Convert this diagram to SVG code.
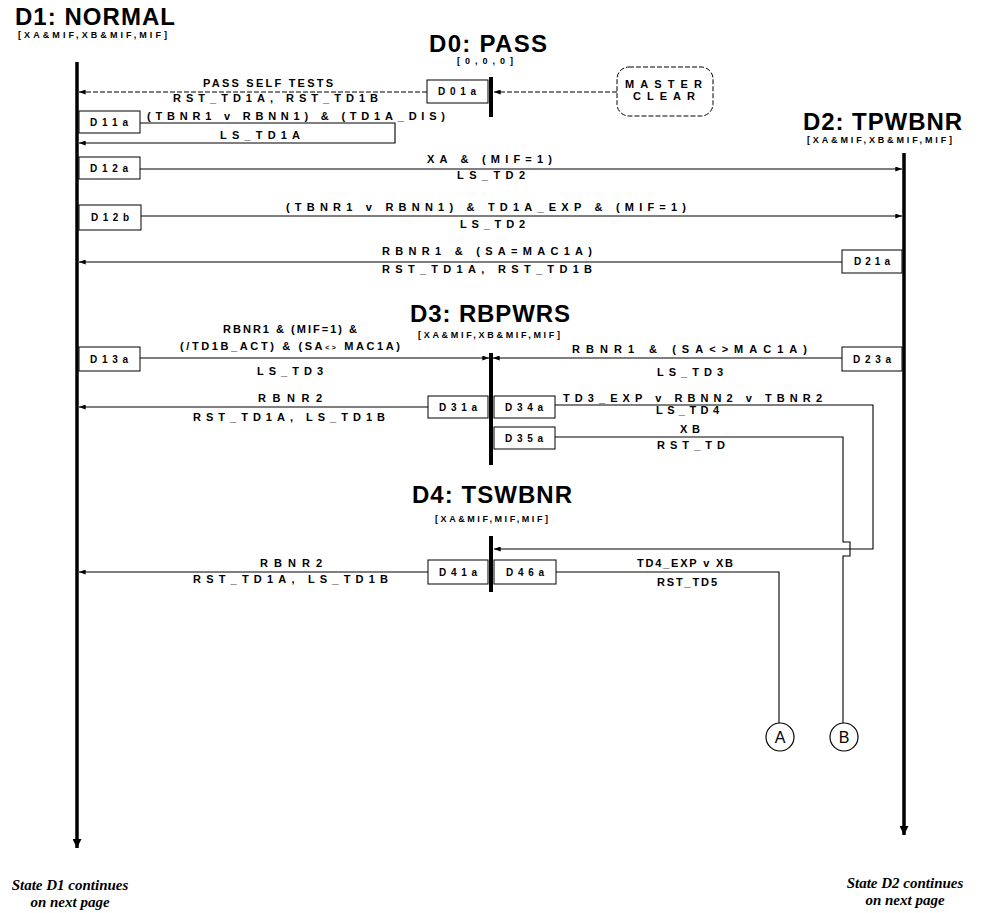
<svg xmlns="http://www.w3.org/2000/svg" width="984" height="913" viewBox="0 0 984 913">
<style>
text{font-family:"Liberation Sans",Arial,sans-serif;font-weight:bold;fill:#000}
.ttl{font-size:24px}
.sub{font-size:9px}
.lbl{font-size:11px}
.bxt{font-size:10px;text-anchor:middle}
.note{font-family:"Liberation Serif","Times New Roman",serif;font-style:italic;font-size:15px;text-anchor:middle}
.life{stroke:#000;stroke-width:3.5;fill:none}
.bar{stroke:#000;stroke-width:4;fill:none}
.ln{stroke:#000;stroke-width:1.1;fill:none}
.dash{stroke-dasharray:5,2}
.box{fill:#fff;stroke:#000;stroke-width:1}
.circ{fill:#fff;stroke:#000;stroke-width:1.2}
.cl{font-weight:normal;font-size:16px;text-anchor:middle}
</style>
<defs>
<marker id="ah" viewBox="0 0 8 6" refX="8" refY="3" markerWidth="7" markerHeight="5" markerUnits="userSpaceOnUse" orient="auto"><path d="M0,0 L8,3 L0,6 z"/></marker>
<marker id="big" viewBox="0 0 10 10" refX="10" refY="5" markerWidth="10" markerHeight="9" markerUnits="userSpaceOnUse" orient="auto"><path d="M0,0 L10,5 L0,10 z"/></marker>
</defs>
<rect width="984" height="913" fill="#fff"/>

<g id="D1">
<text class="ttl" x="15" y="25" textLength="160">D1: NORMAL</text>
<text class="sub" x="18" y="38" textLength="149">[XA&amp;MIF,XB&amp;MIF,MIF]</text>
<line class="life" x1="77" y1="62" x2="77" y2="848" marker-end="url(#big)"/>
<text class="note" x="70" y="890">State D1 continues</text>
<text class="note" x="70" y="907">on next page</text>
</g>

<g id="D0">
<text class="ttl" x="429" y="52" textLength="118">D0: PASS</text>
<text class="sub" x="457" y="64" textLength="56">[0,0,0]</text>
<line class="bar" x1="491" y1="77" x2="491" y2="117"/>
</g>

<g id="MASTER_CLEAR">
<rect class="box dash" x="617" y="67" width="96" height="49" rx="12"/>
<text class="lbl" x="625" y="88" textLength="77">MASTER</text>
<text class="lbl" x="633" y="100" textLength="62">CLEAR</text>
</g>

<g id="D2">
<text class="ttl" x="803" y="130" textLength="159">D2: TPWBNR</text>
<text class="sub" x="807" y="143" textLength="145">[XA&amp;MIF,XB&amp;MIF,MIF]</text>
<line class="life" x1="904" y1="153" x2="904" y2="835" marker-end="url(#big)"/>
<text class="note" x="905" y="888">State D2 continues</text>
<text class="note" x="905" y="905">on next page</text>
</g>

<g id="D3">
<text class="ttl" x="410" y="322" textLength="160">D3: RBPWRS</text>
<text class="sub" x="418" y="338" textLength="142">[XA&amp;MIF,XB&amp;MIF,MIF]</text>
<line class="bar" x1="491" y1="353" x2="491" y2="465"/>
</g>

<g id="D4">
<text class="ttl" x="412" y="503" textLength="160">D4: TSWBNR</text>
<text class="sub" x="435" y="522" textLength="113">[XA&amp;MIF,MIF,MIF]</text>
<line class="bar" x1="491" y1="536" x2="491" y2="592"/>
</g>

<g id="A"><circle class="circ" cx="780" cy="737" r="14"/><text class="cl" x="780" y="743">A</text></g>
<g id="B"><circle class="circ" cx="844" cy="737" r="14"/><text class="cl" x="844" y="743">B</text></g>

<g id="connectors">
<line class="ln dash" x1="427" y1="92" x2="79" y2="92" marker-end="url(#ah)"/>
<line class="ln dash" x1="617" y1="92" x2="494" y2="92" marker-end="url(#ah)"/>
<path class="ln" d="M140,123 H395 V143 H79" marker-end="url(#ah)"/>
<line class="ln" x1="140" y1="169" x2="902" y2="169" marker-end="url(#ah)"/>
<line class="ln" x1="141" y1="216" x2="902" y2="216" marker-end="url(#ah)"/>
<line class="ln" x1="842" y1="262" x2="79" y2="262" marker-end="url(#ah)"/>
<line class="ln" x1="140" y1="358" x2="489" y2="358" marker-end="url(#ah)"/>
<line class="ln" x1="842" y1="358" x2="493" y2="358" marker-end="url(#ah)"/>
<line class="ln" x1="428" y1="407" x2="79" y2="407" marker-end="url(#ah)"/>
<path class="ln" d="M555,405 H873 V549 H494" marker-end="url(#ah)"/>
<path class="ln" d="M555,437 H843 V542 H850 V556 H843 V723"/>
<line class="ln" x1="428" y1="572" x2="79" y2="572" marker-end="url(#ah)"/>
<path class="ln" d="M556,572 H779 V723"/>
</g>

<g id="D01a"><rect class="box" x="427" y="80" width="61" height="23"/><text class="bxt" x="457" y="95" textLength="38">D01a</text></g>
<g id="D11a"><rect class="box" x="79" y="111" width="61" height="22"/><text class="bxt" x="109" y="126" textLength="38">D11a</text></g>
<g id="D12a"><rect class="box" x="79" y="157" width="61" height="22"/><text class="bxt" x="109" y="172" textLength="38">D12a</text></g>
<g id="D12b"><rect class="box" x="79" y="205" width="62" height="25"/><text class="bxt" x="110" y="221" textLength="38">D12b</text></g>
<g id="D21a"><rect class="box" x="842" y="250" width="60" height="23"/><text class="bxt" x="872" y="265" textLength="36">D21a</text></g>
<g id="D13a"><rect class="box" x="79" y="347" width="61" height="24"/><text class="bxt" x="109" y="363" textLength="38">D13a</text></g>
<g id="D23a"><rect class="box" x="842" y="347" width="60" height="24"/><text class="bxt" x="872" y="363" textLength="38">D23a</text></g>
<g id="D31a"><rect class="box" x="428" y="396" width="60" height="22"/><text class="bxt" x="458" y="411" textLength="38">D31a</text></g>
<g id="D34a"><rect class="box" x="494" y="396" width="61" height="22"/><text class="bxt" x="524" y="411" textLength="38">D34a</text></g>
<g id="D35a"><rect class="box" x="494" y="427" width="61" height="22"/><text class="bxt" x="524" y="442" textLength="38">D35a</text></g>
<g id="D41a"><rect class="box" x="428" y="560" width="60" height="24"/><text class="bxt" x="458" y="576" textLength="38">D41a</text></g>
<g id="D46a"><rect class="box" x="494" y="560" width="62" height="24"/><text class="bxt" x="525" y="576" textLength="38">D46a</text></g>

<g id="labels">
<text class="lbl" x="203" y="87" textLength="130">PASS SELF TESTS</text>
<text class="lbl" x="173" y="102" textLength="205">RST_TD1A, RST_TD1B</text>
<text class="lbl" x="147" y="120" textLength="298">(TBNR1 v RBNN1) &amp; (TD1A_DIS)</text>
<text class="lbl" x="220" y="139" textLength="80">LS_TD1A</text>
<text class="lbl" x="427" y="163" textLength="125">XA &amp; (MIF=1)</text>
<text class="lbl" x="457" y="179" textLength="68">LS_TD2</text>
<text class="lbl" x="286" y="211" textLength="400">(TBNR1 v RBNN1) &amp; TD1A_EXP &amp; (MIF=1)</text>
<text class="lbl" x="460" y="228" textLength="65">LS_TD2</text>
<text class="lbl" x="382" y="255" textLength="210">RBNR1 &amp; (SA=MAC1A)</text>
<text class="lbl" x="382" y="273" textLength="210">RST_TD1A, RST_TD1B</text>
<text class="lbl" x="223" y="333" textLength="134">RBNR1 &amp; (MIF=1) &amp;</text>
<text class="lbl" x="180" y="350" textLength="220">(/TD1B_ACT) &amp; (SA<tspan font-size="7">&lt;&gt;</tspan> MAC1A)</text>
<text class="lbl" x="257" y="375" textLength="66">LS_TD3</text>
<text class="lbl" x="572" y="353" textLength="235">RBNR1 &amp; (SA&lt;&gt;MAC1A)</text>
<text class="lbl" x="657" y="376" textLength="66">LS_TD3</text>
<text class="lbl" x="258" y="402" textLength="64">RBNR2</text>
<text class="lbl" x="193" y="421" textLength="192">RST_TD1A, LS_TD1B</text>
<text class="lbl" x="563" y="402" textLength="259">TD3_EXP v RBNN2 v TBNR2</text>
<text class="lbl" x="656" y="414" textLength="63">LS_TD4</text>
<text class="lbl" x="680" y="433" textLength="20">XB</text>
<text class="lbl" x="657" y="449" textLength="68">RST_TD</text>
<text class="lbl" x="260" y="567" textLength="62">RBNR2</text>
<text class="lbl" x="193" y="583" textLength="195">RST_TD1A, LS_TD1B</text>
<text class="lbl" x="637" y="567" textLength="96">TD4_EXP v XB</text>
<text class="lbl" x="657" y="586" textLength="60">RST_TD5</text>
</g>
</svg>
